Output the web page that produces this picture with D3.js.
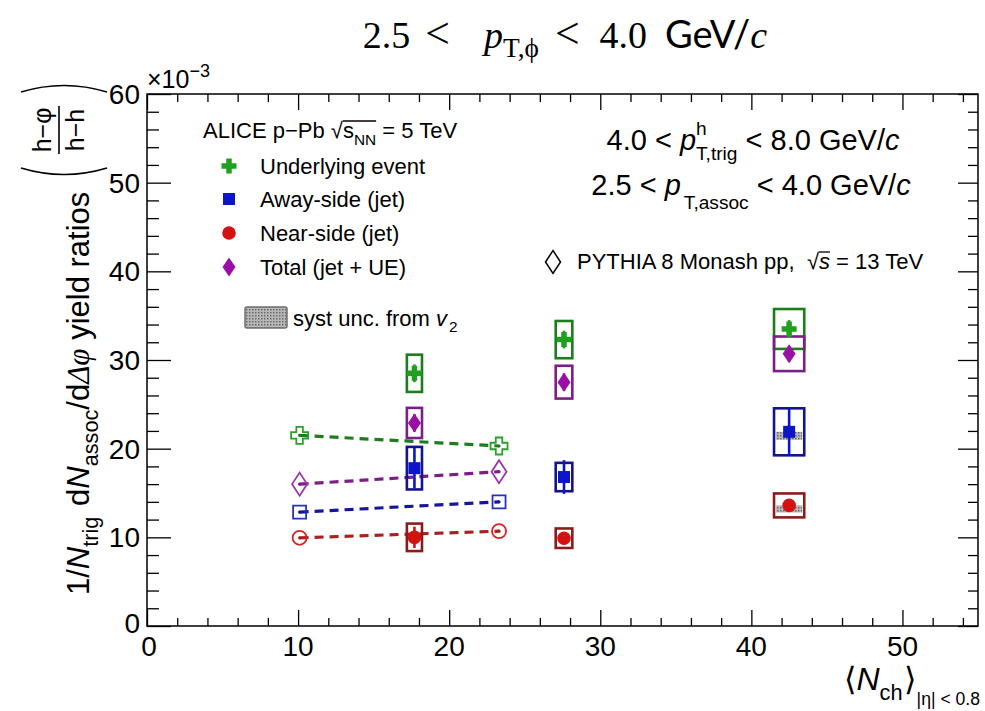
<!DOCTYPE html>
<html><head><meta charset="utf-8">
<script src="https://cdn.jsdelivr.net/npm/d3@7"></script>
<style>html,body{margin:0;padding:0;background:#fff;} svg{display:block;} text{white-space:pre;}</style>
</head><body>
<svg id="c" width="985" height="711"></svg>
<script>
// ---------------- data ----------------
const nch = [17.7, 27.6, 42.5];
const nchSystHalfWidth = [0.5, 0.55, 1.0];
const ueY = [28.5, 32.3, 33.5];
const ueStat = [1.0, 1.0, 1.0];
const ueSyst = [2.1, 2.1, 2.25];
const awayY = [17.8, 16.8, 21.9];
const awayStat = [2.3, 1.9, 2.6];
const awaySyst = [2.4, 1.6, 2.65];
const awayV2 = [0, 0, 0.9];
const nearY = [10.0, 9.9, 13.6];
const nearStat = [1.2, 0.7, 0.7];
const nearSyst = [1.55, 1.1, 1.35];
const nearV2 = [0, 0, 0.8];
const totalY = [22.9, 27.5, 30.7];
const totalStat = [1.0, 1.0, 0.9];
const totalSyst = [1.7, 1.85, 1.95];
const pyNch = [10.1, 23.3];
const pyUE = [21.5, 20.3];
const pyTotal = [16.0, 17.4];
const pyAway = [12.85, 14.0];
const pyNear = [9.95, 10.7];
const xTicks = [0, 10, 20, 30, 40, 50];
const yTicks = [0, 10, 20, 30, 40, 50, 60];
const legendLabels = ["Underlying event", "Away-side (jet)", "Near-side (jet)", "Total (jet + UE)"];

// ---------------- setup ----------------
const svg = d3.select("#c");
const L = 147, R = 978, T = 94, B = 626;
const x = d3.scaleLinear().domain([0, 55]).range([L, R]);
const y = d3.scaleLinear().domain([0, 60]).range([B, T]);
const SANS = "'Liberation Sans', Arial, Helvetica, sans-serif";
const SERIF = "'Liberation Serif', 'DejaVu Serif', serif";

const defs = svg.append("defs");
const pat = defs.append("pattern").attr("id", "dots").attr("patternUnits", "userSpaceOnUse")
  .attr("width", 3).attr("height", 3);
pat.append("rect").attr("width", 3).attr("height", 3).attr("fill", "#b8b8b8");
pat.append("rect").attr("width", 1.5).attr("height", 1.5).attr("fill", "#6a6a6a");

function mk(g, xx, yy, size, fam, ital, str) {
  return g.append("text").attr("x", xx).attr("y", yy).attr("font-size", size).attr("font-family", fam)
    .attr("font-style", ital ? "italic" : "normal").attr("xml:space", "preserve").attr("fill", "#000").text(str);
}
function rich(parent, x0, y0, parts, base, family, anchor) {
  const g = parent.append("g");
  let cx = 0; const ov = [];
  parts.forEach(p => {
    if (p.gap) { cx += p.gap; }
    if (p.mark === "ovStart") { ov.push({x0: cx, y: p.y}); return; }
    if (p.mark === "ovEnd") { ov[ov.length - 1].x1 = cx; return; }
    if (p.text !== undefined) {
      const s = (p.scale || 1) * base;
      const t = mk(g, cx, p.dy || 0, s, p.family || family, p.italic, p.text);
      cx += t.node().getComputedTextLength();
    }
    let w = 0;
    if (p.sup) {
      const t = mk(g, cx, p.supDy, p.supScale * base, family, false, p.sup);
      w = Math.max(w, t.node().getComputedTextLength());
    }
    if (p.sub) {
      const t = mk(g, cx + (p.subShift || 0), p.subDy, p.subScale * base, p.subFamily || family, false, p.sub);
      w = Math.max(w, t.node().getComputedTextLength() + (p.subShift || 0));
    }
    cx += w;
  });
  ov.forEach(o => g.append("line").attr("x1", o.x0).attr("x2", o.x1).attr("y1", o.y).attr("y2", o.y)
    .attr("stroke", "#000").attr("stroke-width", 1.3));
  let sx = x0;
  if (anchor === "middle") sx = x0 - cx / 2;
  if (anchor === "end") sx = x0 - cx;
  g.attr("transform", `translate(${sx},${y0})`);
  return g;
}

// ---------------- title ----------------
rich(svg, 565, 48, [
  {text: "2.5", family: SERIF},
  {text: "<", family: SERIF, gap: 15, scale: 1.15},
  {text: "p", italic: true, family: SERIF, gap: 34, sub: "T,ϕ", subDy: 9, subScale: 0.72, subFamily: SERIF},
  {text: "<", family: SERIF, gap: 16, scale: 1.15},
  {text: "4.0", family: SERIF, gap: 20},
  {text: "GeV/", family: "Lato, 'Open Sans', sans-serif", gap: 18},
  {text: "c", italic: true, family: SERIF}
], 38, SERIF, "middle");

// ---------------- axes ----------------
const frame = svg.append("g");
function ticks(axisFn, pos, vals, size) {
  const a = axisFn.tickValues(vals).tickSize(size).tickSizeOuter(0).tickFormat("");
  const g = frame.append("g").attr("transform", pos).call(a);
  g.select(".domain").remove();
  g.selectAll("line").attr("stroke", "#000").attr("stroke-width", 1.3);
  return g;
}
const xMinor = d3.range(0, 56, 2).filter(v => v % 10 !== 0);
const yMinor = d3.range(0, 61, 2).filter(v => v % 10 !== 0);
ticks(d3.axisBottom(x), `translate(0,${B})`, xTicks, -16);
ticks(d3.axisBottom(x), `translate(0,${B})`, xMinor, -8);
ticks(d3.axisTop(x), `translate(0,${T})`, xTicks, -16);
ticks(d3.axisTop(x), `translate(0,${T})`, xMinor, -8);
ticks(d3.axisLeft(y), `translate(${L},0)`, yTicks, -24);
ticks(d3.axisLeft(y), `translate(${L},0)`, yMinor, -12);
ticks(d3.axisRight(y), `translate(${R},0)`, yTicks, -20);
ticks(d3.axisRight(y), `translate(${R},0)`, yMinor, -10);
frame.append("rect").attr("x", L).attr("y", T).attr("width", R - L).attr("height", B - T)
  .attr("fill", "none").attr("stroke", "#000").attr("stroke-width", 1.5);

// tick labels
svg.append("g").selectAll("text").data(xTicks).join("text")
  .attr("x", d => x(d) + (d === 0 ? 2 : 0)).attr("y", 656).attr("text-anchor", "middle")
  .attr("font-size", 28).attr("font-family", SANS).text(d => d);
svg.append("g").selectAll("text").data(yTicks).join("text")
  .attr("x", 140).attr("y", d => y(d) + 10 - (d === 0 ? 3 : 0)).attr("text-anchor", "end")
  .attr("font-size", 28).attr("font-family", SANS).text(d => d);

// ×10^-3
rich(svg, 147, 88, [{text: "×10", sup: "−3", supDy: -11, supScale: 0.72}], 25, SANS, "start");

// x label
rich(svg, 980, 690, [
  {text: "⟨"},
  {text: "N", italic: true, sub: "ch", subDy: 10, subScale: 0.68},
  {text: "⟩", gap: 1},
  {sub: "|η| < 0.8", subDy: 15, subScale: 0.55, subShift: 1}
], 32, SANS, "end");

// y label (rotated)
const yl = svg.append("g").attr("transform", "translate(89,595) rotate(-90)");
rich(yl, 0, 0, [
  {text: "1/"},
  {text: "N", italic: true, sub: "trig", subDy: 9, subScale: 0.7},
  {text: " d", gap: 2},
  {text: "N", italic: true, sub: "assoc", subDy: 9, subScale: 0.7},
  {text: "/d"},
  {text: "Δφ", italic: true, family: SERIF},
  {text: " yield ratios"}
], 31, SANS, "start");
const fx0 = 419, fx1 = 511;
const fm = (fx0 + fx1) / 2;
yl.append("text").attr("x", fm).attr("y", -38).attr("text-anchor", "middle").attr("font-size", 25)
  .attr("font-family", SANS).text("h−φ");
yl.append("text").attr("x", fm).attr("y", -5).attr("text-anchor", "middle").attr("font-size", 25)
  .attr("font-family", SANS).text("h−h");
yl.append("line").attr("x1", fm - 24).attr("x2", fm + 24).attr("y1", -30).attr("y2", -30)
  .attr("stroke", "#000").attr("stroke-width", 1.6);
yl.append("path").attr("d", `M${fx0 + 8},-68 Q${fx0 - 5},-25 ${fx0 + 8},18`).attr("fill", "none")
  .attr("stroke", "#000").attr("stroke-width", 1.7);
yl.append("path").attr("d", `M${fx1 - 8},-68 Q${fx1 + 5},-25 ${fx1 - 8},18`).attr("fill", "none")
  .attr("stroke", "#000").attr("stroke-width", 1.7);

// ---------------- markers ----------------
function crossPath(s, t) {
  const a = s / 2, b = t / 2;
  return `M${-b},${-a}H${b}V${-b}H${a}V${b}H${b}V${a}H${-b}V${b}H${-a}V${-b}H${-b}Z`;
}
function diamondPath(w, h) { return `M0,${-h / 2}L${w / 2},0L0,${h / 2}L${-w / 2},0Z`; }
function squarePath(s) { return `M${-s / 2},${-s / 2}h${s}v${s}h${-s}Z`; }
function circlePath(r) { return `M${-r},0a${r},${r} 0 1,0 ${2 * r},0a${r},${r} 0 1,0 ${-2 * r},0Z`; }

const series = [
  {vals: ueY, stat: ueStat, syst: ueSyst, v2: null, mk: "#1fa01f", box: "#1b7d1b", path: crossPath(15, 5.5)},
  {vals: totalY, stat: totalStat, syst: totalSyst, v2: null, mk: "#9a0fa6", box: "#7d1d88", path: diamondPath(13, 19)},
  {vals: awayY, stat: awayStat, syst: awaySyst, v2: awayV2, mk: "#0c16c8", box: "#14148c", path: squarePath(12)},
  {vals: nearY, stat: nearStat, syst: nearSyst, v2: nearV2, mk: "#d41212", box: "#8c1c1c", path: circlePath(6.8)}
];

const plot = svg.append("g");
const pySeries = [
  {vals: pyUE, line: "#1b7d1b", mk: "#2aa02a", path: crossPath(17, 6.5)},
  {vals: pyTotal, line: "#7d1d88", mk: "#9a35aa", path: diamondPath(15, 23)},
  {vals: pyAway, line: "#16169a", mk: "#2233c2", path: squarePath(13)},
  {vals: pyNear, line: "#a82020", mk: "#d42424", path: circlePath(7)}
];
const lineGen = d3.line().x((d, i) => x(pyNch[i])).y(d => y(d));
pySeries.forEach(s => {
  plot.append("path").attr("d", lineGen(s.vals)).attr("fill", "none").attr("stroke", s.line)
    .attr("stroke-width", 3.2).attr("stroke-dasharray", "9,6");
});

series.forEach(s => {
  nch.forEach((n, i) => {
    const hw = nchSystHalfWidth[i];
    plot.append("rect").attr("x", x(n - hw)).attr("width", x(n + hw) - x(n - hw))
      .attr("y", y(s.vals[i] + s.syst[i])).attr("height", y(s.vals[i] - s.syst[i]) - y(s.vals[i] + s.syst[i]))
      .attr("fill", "none").attr("stroke", s.box).attr("stroke-width", 2.6);
    if (s.v2 && s.v2[i] > 0) {
      plot.append("rect").attr("x", x(n - hw) + 2).attr("width", x(n + hw) - x(n - hw) - 4)
        .attr("y", y(s.vals[i])).attr("height", y(s.vals[i] - s.v2[i]) - y(s.vals[i]))
        .attr("fill", "url(#dots)");
    }
  });
});
series.forEach(s => {
  nch.forEach((n, i) => {
    plot.append("line").attr("x1", x(n)).attr("x2", x(n)).attr("y1", y(s.vals[i] + s.stat[i]))
      .attr("y2", y(s.vals[i] - s.stat[i])).attr("stroke", s.mk).attr("stroke-width", 2.6);
    plot.append("path").attr("d", s.path).attr("transform", `translate(${x(n)},${y(s.vals[i])})`)
      .attr("fill", s.mk);
  });
});
pySeries.forEach(s => {
  pyNch.forEach((n, i) => {
    plot.append("path").attr("d", s.path).attr("transform", `translate(${x(n)},${y(s.vals[i])})`)
      .attr("fill", "none").attr("stroke", s.mk).attr("stroke-width", 1.8);
    plot.append("circle").attr("cx", x(n)).attr("cy", y(s.vals[i])).attr("r", 1.6).attr("fill", s.line);
  });
});

// ---------------- legend ----------------
const leg = svg.append("g");
rich(leg, 203, 138, [
  {text: "ALICE p−Pb "},
  {text: "√"},
  {mark: "ovStart", y: -17},
  {text: "s", sub: "NN", subDy: 7, subScale: 0.7},
  {mark: "ovEnd"},
  {text: " = 5 TeV"}
], 22, SANS, "start");
const legY = [166, 199, 233, 267];
const legOrder = [0, 2, 3, 1];
legendLabels.forEach((lab, k) => {
  const s = series[legOrder[k]];
  leg.append("path").attr("d", s.path).attr("transform", `translate(229,${legY[k]})`).attr("fill", s.mk);
  leg.append("text").attr("x", 260).attr("y", legY[k] + 8).attr("font-size", 22)
    .attr("font-family", SANS).text(lab);
});
leg.append("rect").attr("x", 245).attr("y", 307).attr("width", 42).attr("height", 21).attr("rx", 2)
  .attr("fill", "url(#dots)").attr("stroke", "#707070").attr("stroke-width", 1.5);
rich(leg, 293, 326, [
  {text: "syst unc. from "},
  {text: "v", italic: true, sub: "2", subDy: 6, subScale: 0.7, subShift: 2}
], 22, SANS, "start");

// right-hand texts
rich(svg, 753, 150, [
  {text: "4.0 < "},
  {text: "p", italic: true, sup: "h", supDy: -15, supScale: 0.66, sub: "T,trig", subDy: 10, subScale: 0.66},
  {text: " < 8.0 GeV/"},
  {text: "c", italic: true}
], 29, SANS, "middle");
rich(svg, 751, 195, [
  {text: "2.5 < "},
  {text: "p", italic: true, sub: "T,assoc", subDy: 14, subScale: 0.66, subShift: 3},
  {text: " < 4.0 GeV/"},
  {text: "c", italic: true}
], 29, SANS, "middle");
svg.append("path").attr("d", diamondPath(15, 23)).attr("transform", "translate(553,262)")
  .attr("fill", "none").attr("stroke", "#000").attr("stroke-width", 1.5);
rich(svg, 577, 269, [
  {text: "PYTHIA 8 Monash pp,  "},
  {text: "√"},
  {mark: "ovStart", y: -17},
  {text: "s", italic: true},
  {mark: "ovEnd"},
  {text: " = 13 TeV"}
], 22, SANS, "start");
</script>
</body></html>
